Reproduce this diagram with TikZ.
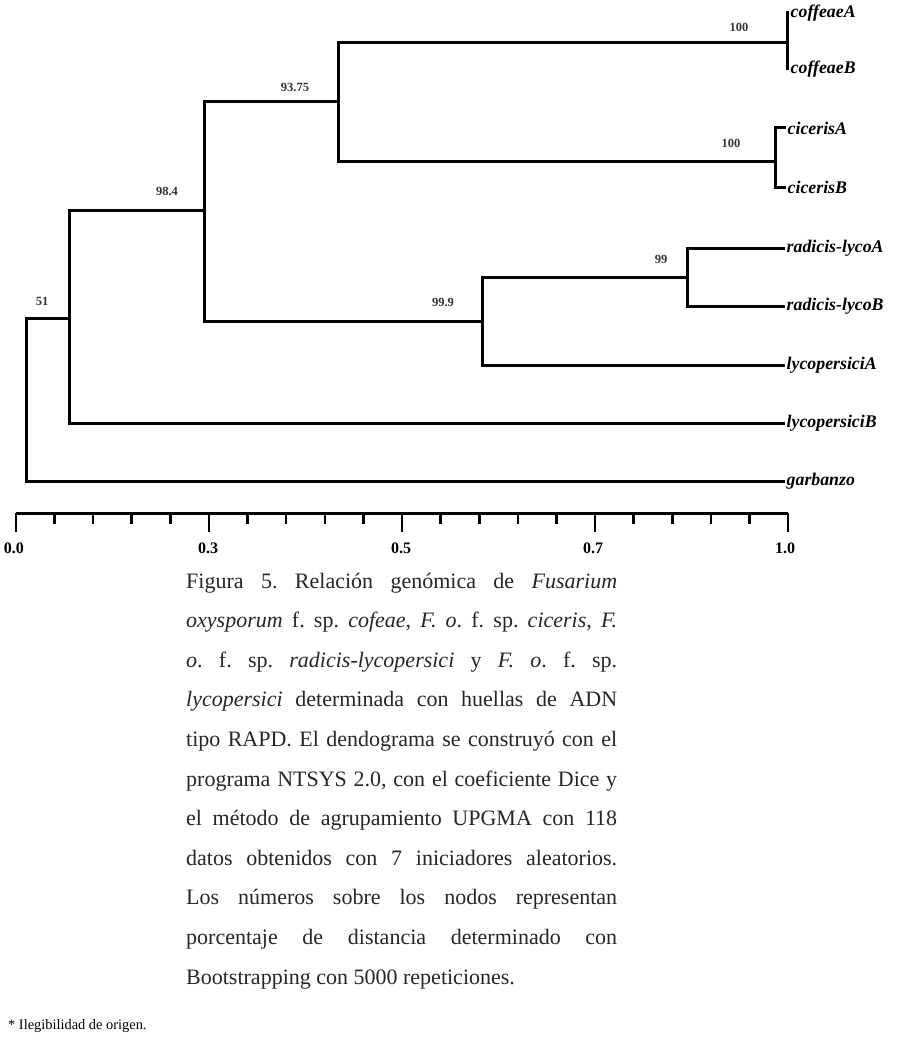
\documentclass[tikz,border=0pt]{standalone}
\usepackage{fontspec}
\setmainfont{Liberation Serif}
\usetikzlibrary{calc}
\frenchspacing
\begin{document}
\begin{tikzpicture}[x=1pt,y=-1pt,
  branch/.style={line width=3pt, line join=miter, line cap=butt},
  axisline/.style={line width=3pt, line cap=butt},
  tickline/.style={line width=2.6pt, line cap=butt},
  leaf/.style={anchor=west, inner xsep=1.5pt, inner ysep=0pt, font=\fontsize{17.8}{20}\selectfont\bfseries\itshape},
  boot/.style={inner sep=0pt, font=\fontsize{12.5}{14}\selectfont\bfseries, text=black!80},
  axlab/.style={inner sep=0pt, font=\fontsize{16}{18}\selectfont\bfseries},
  capline/.style={anchor=base west, inner sep=0pt, text=black!85, font=\fontsize{22}{26}\selectfont},
]
\useasboundingbox (0,0) rectangle (922,1046);

% leaf labels
\node[leaf] (cofA) at (789,13) {coffeaeA};
\node[leaf] (cofB) at (789,69) {coffeaeB};
\node[leaf] (cicA) at (786,128) {cicerisA};
\node[leaf] (cicB) at (786,187) {cicerisB};
\node[leaf] (radA) at (785,248) {radicis-lycoA};
\node[leaf] (radB) at (785,306) {radicis-lycoB};
\node[leaf] (lycA) at (785,365) {lycopersiciA};
\node[leaf] (lycB) at (785,423) {lycopersiciB};
\node[leaf] (garb) at (785,481) {garbanzo};

% internal nodes
\coordinate (nroot) at (26,318);
\coordinate (n68) at (69,318);
\coordinate (n204) at (204,210);
\coordinate (n338) at (338,102);
\coordinate (n482) at (482,321);
\coordinate (ncof) at (787,43);
\coordinate (ncic) at (775,161);
\coordinate (n687) at (687,277);

% branches
\draw[branch] (n68) -- (nroot) |- (garb.west);
\draw[branch] (n204) -- (n204 -| n68) |- (lycB.west);
\draw[branch] (n338) -- (n338 -| n204) |- (n482);
\draw[branch] (ncof) -- (ncof -| n338) |- (ncic);
\draw[branch] (cofA.west) -- (cofA.west -| ncof) -- (cofB.west -| ncof) -- (cofB.west);
\draw[branch] (cicA.west) -- (cicA.west -| ncic) -- (cicB.west -| ncic) -- (cicB.west);
\draw[branch] (n687) -- (n687 -| n482) |- (lycA.west);
\draw[branch] (radA.west) -- (radA.west -| n687) -- (radB.west -| n687) -- (radB.west);

% bootstrap values
\node[boot] (b1) at (739,27) {100};
\node[boot] (b2) at (731,143) {100};
\node[boot] (b3) at (295,87) {93.75};
\node[boot] (b4) at (167,191) {98.4};
\node[boot] (b5) at (42,301) {51};
\node[boot] (b6) at (443,302) {99.9};
\node[boot] (b7) at (661,259) {99};

% axis
\coordinate (ax0) at (16,513);
\coordinate (ax1) at (788,513);
\draw[axisline] (ax0) -- (ax1);
\foreach \i in {0,...,20}{
  \pgfmathtruncatemacro{\m}{mod(\i,5)}
  \ifnum\m=0
    \draw[tickline] ($(ax0)!\i/20!(ax1)$) -- ++(0,19);
  \else
    \draw[tickline] ($(ax0)!\i/20!(ax1)$) -- ++(0,11);
  \fi
}
\node[axlab] (l0) at (14,548) {0.0};
\node[axlab] (l3) at (208,548) {0.3};
\node[axlab] (l5) at (401,548) {0.5};
\node[axlab] (l7) at (593,548) {0.7};
\node[axlab] (l10) at (785,548) {1.0};

% caption
\node[capline] (c1) at (186,588) {\makebox[431pt][s]{Figura 5. Relación genómica de \textit{Fusarium}}};
\node[capline] (c2) at (186,627.6) {\makebox[431pt][s]{\textit{oxysporum} f. sp. \textit{cofeae}, \textit{F. o}. f. sp. \textit{ciceris}, \textit{F.}}};
\node[capline] (c3) at (186,667.2) {\makebox[431pt][s]{\textit{o}. f. sp. \textit{radicis-lycopersici} y \textit{F. o}. f. sp.}};
\node[capline] (c4) at (186,706.8) {\makebox[431pt][s]{\textit{lycopersici} determinada con huellas de ADN}};
\node[capline] (c5) at (186,746.4) {\makebox[431pt][s]{tipo RAPD. El dendograma se construyó con el}};
\node[capline] (c6) at (186,786) {\makebox[431pt][s]{programa NTSYS 2.0, con el coeficiente Dice y}};
\node[capline] (c7) at (186,825.6) {\makebox[431pt][s]{el método de agrupamiento UPGMA con 118}};
\node[capline] (c8) at (186,865.2) {\makebox[431pt][s]{datos obtenidos con 7 iniciadores aleatorios.}};
\node[capline] (c9) at (186,904.8) {\makebox[431pt][s]{Los números sobre los nodos representan}};
\node[capline] (c10) at (186,944.4) {\makebox[431pt][s]{porcentaje de distancia determinado con}};
\node[capline] (c11) at (186,984) {Bootstrapping con 5000 repeticiones.};

% footnote
\node[anchor=base west, inner sep=0pt, font=\fontsize{14.4}{16}\selectfont] (fn) at (8,1029) {* Ilegibilidad de origen.};
\end{tikzpicture}
\end{document}
